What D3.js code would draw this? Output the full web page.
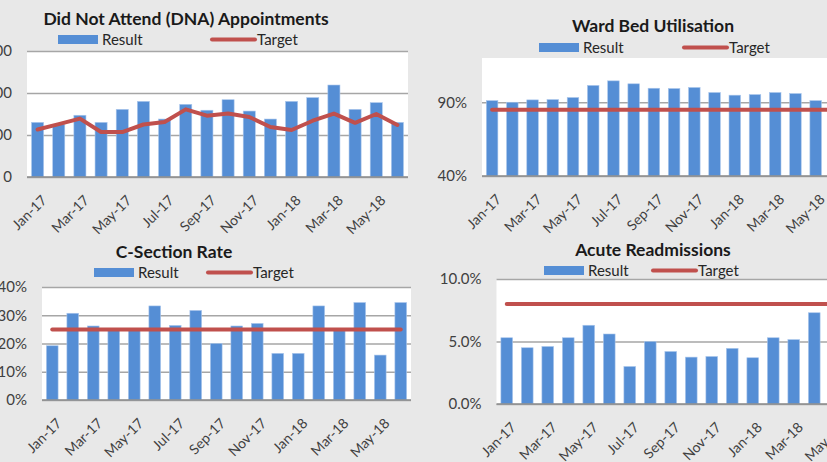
<!DOCTYPE html>
<html><head><meta charset="utf-8">
<script src="https://cdn.jsdelivr.net/npm/d3@7"></script>
<style>
html,body{margin:0;padding:0;background:#e8e8e8;overflow:hidden;}
svg{display:block;font-family:Lato,"Liberation Sans",Arial,sans-serif;}
</style></head>
<body><svg id="c" width="827" height="462"></svg>
<script>
const months = ["Jan-17","Feb-17","Mar-17","Apr-17","May-17","Jun-17","Jul-17","Aug-17","Sep-17","Oct-17","Nov-17","Dec-17","Jan-18","Feb-18","Mar-18","Apr-18","May-18","Jun-18"];

const dnaResult = [130,125,147,130,161,180,138,173,159,184,157,138,180,189,219,161,177,130];
const dnaTarget = [113,126,139,107,107,125,131,161,146,151,143,119,112,134,151,129,150,124];
const dnaTicks = [0,100,200,300];

const wardResult = [0.911,0.900,0.916,0.918,0.932,1.014,1.045,1.025,0.995,0.993,1.000,0.966,0.948,0.952,0.966,0.959,0.911,0.900];
const wardTarget = [0.85,0.85,0.85,0.85,0.85,0.85,0.85,0.85,0.85,0.85,0.85,0.85,0.85,0.85,0.85,0.85,0.85,0.85];
const wardTicks = [0.4,0.9];

const csResult = [0.192,0.307,0.262,0.250,0.250,0.333,0.264,0.317,0.200,0.262,0.271,0.165,0.165,0.333,0.250,0.345,0.159,0.345];
const csTarget = [0.25,0.25,0.25,0.25,0.25,0.25,0.25,0.25,0.25,0.25,0.25,0.25,0.25,0.25,0.25,0.25,0.25,0.25];
const csTicks = [0,0.1,0.2,0.3,0.4];

const acuteResult = [0.053,0.045,0.046,0.053,0.063,0.056,0.030,0.050,0.042,0.0375,0.038,0.0445,0.037,0.053,0.0515,0.073,0.050,0.048];
const acuteTarget = [0.08,0.08,0.08,0.08,0.08,0.08,0.08,0.08,0.08,0.08,0.08,0.08,0.08,0.08,0.08,0.08,0.08,0.08];
const acuteTicks = [0,0.05,0.10];

const BLUE = "#558ed5", RED = "#c0504d", GRID = "#a6a6a6";
const FONT = "Lato, 'Liberation Sans', Arial, sans-serif";

const panels = [
  {title:"Did Not Attend (DNA) Appointments", result:dnaResult, target:dnaTarget, ticks:dnaTicks, domain:[0,300], fmt:d3.format("d"),
   x0:27, x1:408, y0:51, y1:177, titleX:186, titleY:25, legY:39.5, legRect:58, legLine:212},
  {title:"Ward Bed Utilisation", result:wardResult, target:wardTarget, ticks:wardTicks, domain:[0.4,1.2], fmt:d3.format(".0%"),
   x0:482, x1:846, y0:58, y1:176, titleX:653, titleY:32, legY:47.5, legRect:539, legLine:684},
  {title:"C-Section Rate", result:csResult, target:csTarget, ticks:csTicks, domain:[0,0.4], fmt:d3.format(".0%"),
   x0:42, x1:411, y0:287, y1:400, titleX:174, titleY:258, legY:272.5, legRect:94, legLine:208},
  {title:"Acute Readmissions", result:acuteResult, target:acuteTarget, ticks:acuteTicks, domain:[0,0.1], fmt:d3.format(".1%"),
   x0:496.5, x1:865.5, y0:279, y1:404, titleX:653, titleY:256, legY:270.5, legRect:544, legLine:653}
];

const svg = d3.select("#c");

panels.forEach(p => {
  const g = svg.append("g");
  const x = d3.scaleBand().domain(months).range([p.x0, p.x1]).paddingInner(0.43).paddingOuter(0.215);
  const y = d3.scaleLinear().domain(p.domain).range([p.y1, p.y0]);

  g.append("rect").attr("x", p.x0).attr("y", p.y0).attr("width", p.x1 - p.x0).attr("height", p.y1 - p.y0).attr("fill", "#fff");

  const yAxis = d3.axisLeft(y).tickValues(p.ticks).tickFormat(p.fmt).tickSize(-(p.x1 - p.x0)).tickPadding(15);
  const ya = g.append("g").attr("transform", `translate(${p.x0},0)`).call(yAxis);
  ya.select(".domain").remove();
  ya.selectAll(".tick line").attr("stroke", GRID).attr("stroke-width", 1.5);
  ya.selectAll(".tick text").attr("fill", "#404040").attr("font-size", 15).attr("font-family", FONT);

  g.selectAll("rect.bar").data(p.result).join("rect").attr("class", "bar")
    .attr("x", (d, i) => x(months[i])).attr("width", x.bandwidth())
    .attr("y", d => y(d)).attr("height", d => y(p.domain[0]) - y(d))
    .attr("fill", BLUE).attr("stroke", "#a9c6ec").attr("stroke-width", 0.6);

  g.append("line").attr("x1", p.x0).attr("x2", p.x1).attr("y1", p.y1).attr("y2", p.y1).attr("stroke", "#8c8c8c").attr("stroke-width", 1.5);

  const line = d3.line().x((d, i) => x(months[i]) + x.bandwidth() / 2).y(d => y(d));
  g.append("path").datum(p.target).attr("d", line).attr("fill", "none").attr("stroke", RED)
    .attr("stroke-width", 4).attr("stroke-linecap", "round").attr("stroke-linejoin", "round");

  const xa = g.append("g");
  months.forEach((m, i) => {
    if (i % 2 !== 0) return;
    const cx = x(m) + x.bandwidth() / 2;
    xa.append("text").attr("transform", `translate(${cx + 3},${p.y1 + 17}) rotate(-45)`)
      .attr("text-anchor", "end").attr("dy", "0.72em").attr("font-size", 14).attr("fill", "#404040").text(m);
  });

  g.append("text").attr("x", p.titleX).attr("y", p.titleY).attr("text-anchor", "middle")
    .attr("font-size", 17.5).attr("font-weight", "bold").attr("fill", "#1a1a1a").text(p.title);

  g.append("rect").attr("x", p.legRect).attr("y", p.legY - 4.5).attr("width", 40).attr("height", 9).attr("fill", BLUE);
  g.append("text").attr("x", p.legRect + 44).attr("y", p.legY + 5.5).attr("font-size", 15).attr("fill", "#262626").text("Result");
  g.append("line").attr("x1", p.legLine).attr("x2", p.legLine + 43).attr("y1", p.legY).attr("y2", p.legY)
    .attr("stroke", RED).attr("stroke-width", 4).attr("stroke-linecap", "round");
  g.append("text").attr("x", p.legLine + 45).attr("y", p.legY + 5.5).attr("font-size", 15).attr("fill", "#262626").text("Target");
});
</script></body></html>
